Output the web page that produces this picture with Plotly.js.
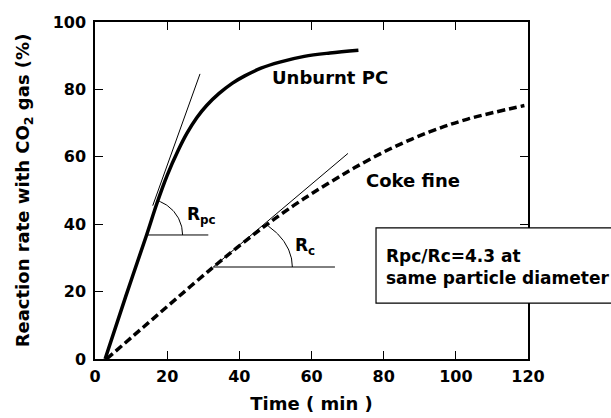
<!DOCTYPE html>
<html>
<head>
<meta charset="utf-8">
<script src="https://cdn.plot.ly/plotly-3.0.1.min.js"></script>
<style>html,body{margin:0;padding:0;background:#fff;}#chart{width:611px;height:418px;}</style>
</head>
<body>
<div id="chart"></div>
<script>
// ---- data ----
const pcTime   = [2.8, 8.5, 14.3, 17.1, 20, 23.1, 25.5, 28.2, 31, 34.4, 38, 41.5, 46, 51.2, 58, 65.1, 73];
const pcRate   = [0, 18.5, 36.8, 46, 54.5, 62, 67, 71.6, 75.3, 78.8, 81.8, 84, 86.3, 88.1, 89.8, 90.8, 91.6];
const cokeTime = [3.2, 12.6, 22.3, 32.8, 40.7, 48, 55, 60.1, 66, 72, 81.7, 92.5, 103.3, 119];
const cokeRate = [0, 8.7, 17.7, 27.3, 34.2, 40.2, 45.5, 49.1, 53.0, 56.8, 62.3, 67.3, 71.2, 75.2];

// helper construction lines (tangents and horizontals)
const pcTangentX   = [16, 29.1];
const pcTangentY   = [45.5, 84.6];
const pcHorizX     = [14.3, 31.4];
const pcHorizY     = [36.8, 36.8];
const cokeTangentX = [32.8, 70.1];
const cokeTangentY = [27.3, 61];
const cokeHorizX   = [32.8, 66.5];
const cokeHorizY   = [27.3, 27.3];

// angle arcs: vertex (data), radii in px, end angle in degrees
const pcArc   = {vx: 14.3, vy: 36.8, rx: 36, ry: 36, deg: 71};
const cokeArc = {vx: 32.8, vy: 27.3, rx: 79, ry: 57, deg: 46};

const xTicks = [0, 20, 40, 60, 80, 100, 120];
const yTicks = [0, 20, 40, 60, 80, 100];

// label texts
const curveLabels = ['Unburnt PC', 'Coke fine'];
const angleLabels = ['R<sub>pc</sub>', 'R<sub>c</sub>'];
const boxLines = ['Rpc/Rc=4.3 at', 'same particle diameter'];

// ---- layout geometry ----
const W = 611, H = 418;
const M = {l: 95, r: 83, t: 22, b: 59};
const xRange = [0, 120], yRange = [0, 100];
const pxX = (W - M.l - M.r) / (xRange[1] - xRange[0]);
const pxY = (H - M.t - M.b) / (yRange[1] - yRange[0]);

function arc(a) {
  const xs = [], ys = [];
  for (let i = 0; i <= 40; i++) {
    const t = a.deg * Math.PI / 180 * i / 40;
    xs.push(a.vx + a.rx * Math.cos(t) / pxX);
    ys.push(a.vy + a.ry * Math.sin(t) / pxY);
  }
  return {x: xs, y: ys};
}
const pa = arc(pcArc), ca = arc(cokeArc);

const FONT = 'DejaVu Sans';
const thin = {color: '#000', width: 1};

const traces = [
  {x: pcTangentX, y: pcTangentY, mode: 'lines', line: thin, hoverinfo: 'skip'},
  {x: pcHorizX, y: pcHorizY, mode: 'lines', line: thin, hoverinfo: 'skip'},
  {x: pa.x, y: pa.y, mode: 'lines', line: thin, hoverinfo: 'skip'},
  {x: cokeTangentX, y: cokeTangentY, mode: 'lines', line: thin, hoverinfo: 'skip'},
  {x: cokeHorizX, y: cokeHorizY, mode: 'lines', line: thin, hoverinfo: 'skip'},
  {x: ca.x, y: ca.y, mode: 'lines', line: thin, hoverinfo: 'skip'},
  {x: pcTime, y: pcRate, name: curveLabels[0], mode: 'lines',
   line: {color: '#000', width: 3.5, shape: 'spline', smoothing: 1}},
  {x: cokeTime, y: cokeRate, name: curveLabels[1], mode: 'lines',
   line: {color: '#000', width: 3.5, dash: '8px,4px', shape: 'spline', smoothing: 1}}
];

const axisCommon = {
  showline: true, linecolor: '#000', linewidth: 1.5, mirror: 'ticks',
  ticks: 'inside', ticklen: 8, tickwidth: 1, tickcolor: '#000',
  showgrid: false, zeroline: false,
  tickfont: {family: FONT, size: 16, color: '#000', weight: 'bold'}
};

function ann(x, y, ref, text, size) {
  return {x: x, y: y, xref: ref, yref: ref === 'paper' ? 'paper' : 'y', text: '<b>' + text + '</b>',
    showarrow: false, xanchor: 'left', yanchor: 'middle',
    font: {family: FONT, size: size, color: '#000'}};
}

const layout = {
  width: W, height: H,
  margin: M,
  paper_bgcolor: '#fff', plot_bgcolor: '#fff',
  showlegend: false,
  xaxis: Object.assign({}, axisCommon, {
    range: xRange, tickvals: xTicks, ticktext: xTicks.map(String),
    ticklabelstandoff: 2,
    title: {text: 'Time ( min )', font: {family: FONT, size: 18, color: '#000', weight: 'bold'}, standoff: 12}
  }),
  yaxis: Object.assign({}, axisCommon, {
    range: yRange, tickvals: yTicks, ticktext: yTicks.map(String),
    ticklabelstandoff: 4,
    title: {text: 'Reaction rate with CO<sub>2</sub> gas (%)', font: {family: FONT, size: 18, color: '#000', weight: 'bold'}, standoff: 18}
  }),
  shapes: [
    {type: 'rect', xref: 'paper', yref: 'paper', x0: 0.649, x1: 1.3, y0: 0.166, y1: 0.389,
     line: {color: '#000', width: 1.2}, fillcolor: '#fff', layer: 'above'}
  ],
  annotations: [
    ann(48.5, 83.4, 'x', curveLabels[0], 18),
    ann(74.5, 53.1, 'x', curveLabels[1], 18),
    ann(25, 42.5, 'x', angleLabels[0], 17),
    ann(55, 33.5, 'x', angleLabels[1], 17),
    ann(0.667, 0.306, 'paper', boxLines[0], 17),
    ann(0.667, 0.240, 'paper', boxLines[1], 17)
  ]
};

Plotly.newPlot('chart', traces, layout, {displayModeBar: false});
</script>
</body>
</html>
